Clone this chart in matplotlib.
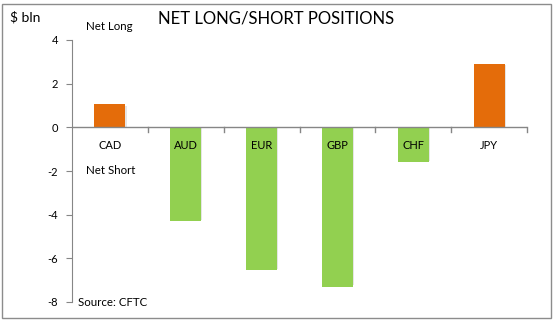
import matplotlib.pyplot as plt
import matplotlib.patches as mpatches
import numpy as np

categories = ["CAD", "AUD", "EUR", "GBP", "CHF", "JPY"]
values = [1.05, -4.3, -6.55, -7.3, -1.6, 2.9]
yticks = [-8, -6, -4, -2, 0, 2, 4]

orange = "#E46C0A"
green = "#92D050"

plt.rcParams['font.family'] = ['Lato', 'DejaVu Sans']

fig = plt.figure(figsize=(5.54, 3.2), dpi=100)
W, H = 554, 320
ax = fig.add_axes([72 / W, 1 - 302 / H, (527 - 72) / W, (302 - 40) / H])

x = np.arange(len(categories))
colors = [orange if v > 0 else green for v in values]
# subtle shadow
ax.bar(x + 0.015, [v - 0.06 * np.sign(v) for v in values], width=0.41, color="#999999",
       alpha=0.25, zorder=1)
ax.bar(x, values, width=0.41, color=colors, zorder=2)

ax.set_xlim(-0.5, len(categories) - 0.5)
ax.set_ylim(-8, 4)
ax.set_yticks(yticks)
ax.set_yticklabels([str(t) for t in yticks], fontsize=8)
ax.tick_params(axis='y', length=4, color="#868686", pad=6)

for s in ['top', 'right', 'bottom']:
    ax.spines[s].set_visible(False)
ax.spines['left'].set_color("#868686")
ax.axhline(0, color="#868686", lw=1, zorder=3)
for b in np.arange(0.5, len(categories) - 0.5 + 0.01, 1.0):
    ax.plot([b, b], [0, -0.2], color="#868686", lw=1, zorder=3, clip_on=False)
ax.set_xticks([])

for xi, c in zip(x, categories):
    ax.text(xi, -0.85, c, ha='center', va='center', fontsize=8, zorder=4)

fig.text(276 / W, 1 - 18 / H, "NET LONG/SHORT POSITIONS", ha='center', va='center', fontsize=12)
fig.text(10 / W, 1 - 17 / H, "$ bln", ha='left', va='center', fontsize=10)
fig.text(86 / W, 1 - 26 / H, "Net Long", ha='left', va='center', fontsize=8.3)
fig.text(86 / W, 1 - 171 / H, "Net Short", ha='left', va='center', fontsize=8.3)
fig.text(78 / W, 1 - 303 / H, "Source: CFTC", ha='left', va='center', fontsize=8.3)

border = mpatches.Rectangle((2 / W, 2 / H), (W - 5) / W, (H - 6) / H, transform=fig.transFigure,
                            fill=False, edgecolor="#8c8c8c", lw=1)
fig.patches.append(border)

fig.savefig("out.png", dpi=100)
